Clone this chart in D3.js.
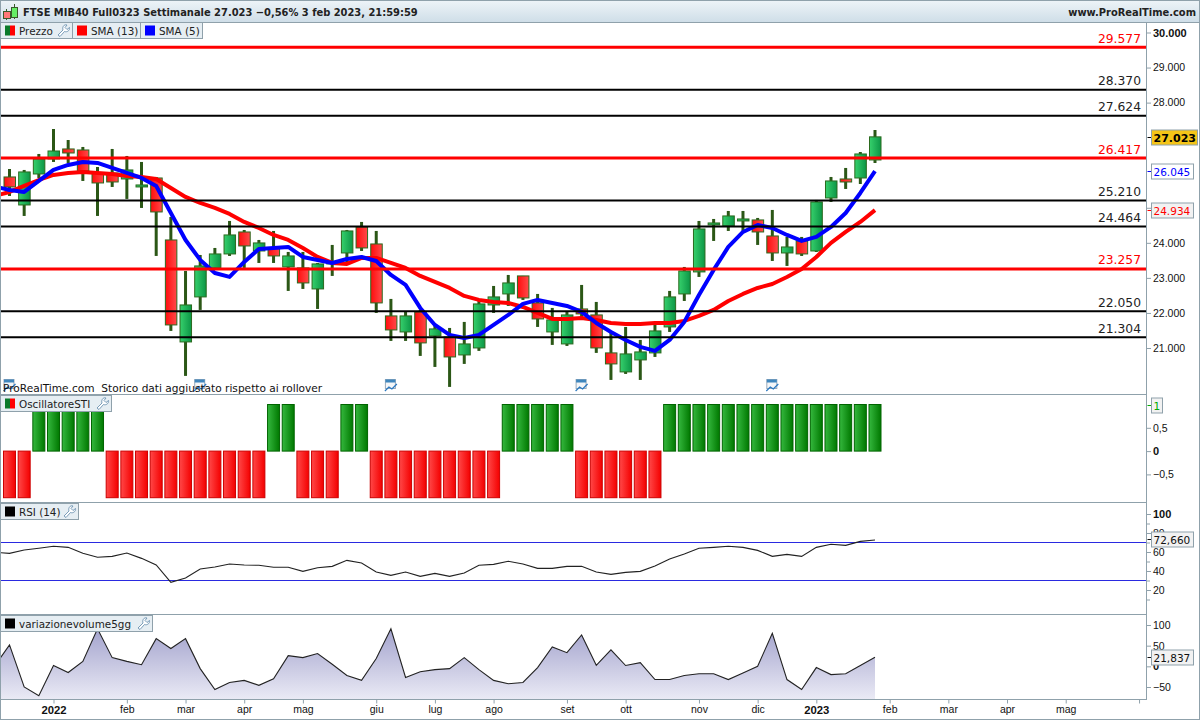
<!DOCTYPE html>
<html>
<head>
<meta charset="utf-8">
<title>FTSE MIB40</title>
<script src="https://cdn.jsdelivr.net/npm/d3@7"></script>
<style>
  html, body { margin: 0; padding: 0; background: #fff; }
  svg { display: block; font-family: "DejaVu Sans", sans-serif; }
  .tick line { stroke: #8fa1ab; }
  .tick text { fill: #111; font-size: 10.5px; }
  .axis .domain { display: none; }
  .narrow { font-family: "DejaVu Sans Condensed", "DejaVu Sans", sans-serif; font-stretch: condensed; }
</style>
</head>
<body>
<svg id="chart" width="1200" height="720"></svg>
<script>
// weekly candles
var opens = [25879,25080,25964,26392,26678,26649,25993,25993,25822,25594,25850,24082,21173,22457,23284,23683,24310,23768,23854,23312,23284,22685,23398,23711,24453,23968,21915,21458,22029,21344,21316,20802,21002,22228,22542,23056,22286,21458,21116,22114,21943,20860,20318,20660,20860,21601,22542,23170,24510,24481,24624,24653,24196,23711,24054,23768,25280,25822,25850,26364];
var highs = [26107,26079,26535,27248,26934,26735,26164,26678,26478,26307,25879,24738,23198,23654,23854,24624,24367,24082,24339,23740,23740,23426,23940,24367,24596,24339,22400,22029,22086,21658,21572,21744,22371,22770,23084,23056,22542,22143,22029,22799,22314,21430,21601,21230,21658,22628,23312,24624,24681,24909,24909,24710,24938,24168,24168,25223,25879,26136,26592,27219];
var lows = [25337,24767,25850,26307,26278,25765,24767,25594,25252,24995,23626,21487,20204,22086,23227,23626,23284,23426,23426,22628,22685,22114,23056,23426,23768,22000,21202,21202,20774,20460,19890,20546,20917,22000,22200,22371,21601,21088,21059,21801,20860,20089,20260,20089,20745,21458,22342,23027,24054,24339,24339,23940,23483,23341,23626,23740,25166,25537,25679,26278];
var closes = [25594,26022,26392,26620,26563,26050,25708,25736,26079,25651,24881,21658,22228,23341,23683,24225,23911,23997,23626,23626,22856,23398,23455,24339,23854,22286,21515,21915,21145,21544,20745,21116,22257,22457,22856,22428,21829,21801,21943,21972,21002,20546,20831,20888,21487,22457,23198,24396,24567,24767,24681,24310,23711,23882,23683,25166,25765,25736,26535,27023];

// line series carry one extra leading value, for the week just left of the chart
var sma13 = [25337,25451,25622,25793,25936,25993,26022,25993,25965,25907,25879,25822,25565,25309,25137,24995,24824,24596,24424,24225,24082,23854,23597,23426,23398,23569,23569,23426,23284,23056,22884,22713,22485,22371,22314,22286,22171,22000,21829,21829,21858,21801,21715,21687,21687,21715,21715,21772,21915,22086,22342,22542,22713,22827,23027,23255,23597,24000,24310,24596,24934];
var sma5 = [25605,25508,25451,25765,26079,26221,26307,26278,26136,25993,25850,25622,24852,24082,23512,23141,23027,23455,23826,23854,23883,23597,23512,23426,23540,23597,23483,23084,22799,22143,21658,21373,21287,21373,21658,21943,22257,22371,22286,22200,22029,21715,21458,21230,21031,20917,21230,21744,22514,23227,23883,24310,24510,24424,24225,24054,24168,24453,24852,25423,26045];
var rsi = [59.6,58.6,62.1,63.9,66.0,64.9,58.6,54.4,55.4,58.9,53.3,46.3,28.1,32.6,42.1,44.2,47.4,46.3,46.0,43.9,43.9,39.6,43.5,44.9,51.2,48.4,38.9,35.4,38.9,34.4,37.5,34.4,37.9,46.0,47.0,50.2,47.4,42.8,42.8,44.9,44.9,38.9,36.5,38.6,39.6,45.2,52.6,57.9,63.9,64.9,66.0,64.9,61.7,55.4,57.5,55.4,64.9,68.1,67.0,71.2,72.66];
var volumeChange = [1,52,-50,-71,2,-15,12,91,21,12,4,67,43,67,-5.5,-56,-39,-34,-46,-30,26,21,31,5,-22,-34,19,91,-27,-13,-8,-5.5,21,-8,-34,-42,-39,-3,47,33,76,2.5,40,2,9,-32,-32,-22,-18,-18,-32,-16,0,80,-32,-56,-3,-20,-18,2,21.84];
var oscillator = [-1,-1,1,1,1,1,1,-1,-1,-1,-1,-1,-1,-1,-1,-1,-1,-1,1,1,-1,-1,-1,1,1,-1,-1,-1,-1,-1,-1,-1,-1,-1,1,1,1,1,1,-1,-1,-1,-1,-1,-1,1,1,1,1,1,1,1,1,1,1,1,1,1,1,1];

var redLevels = [29577, 26417, 23257];
var blackLevels = [28370, 27624, 25210, 24464, 22050, 21304];
var rsiLevels = [70, 30];

var timeLabels = ["2022","feb","mar","apr","mag","giu","lug","ago","set","ott","nov","dic","2023","feb","mar","apr","mag",""];
var timeIndex = [3,8,12,16,20,25,29,33,38,42,47,51,55,60,64,68,72,77];
var calendarIndex = [0,13,26,39,52];

// 27.000 and 26.000 sit wholly under the last value tags, so they are left out
var priceTicks = [30000,29000,28000,25000,24000,23000,22000,21000];
var oscTicks = [0.5,0,-0.5];
var rsiTicks = [100,80,60,40,20];
var rsiMinor = [90,70,50,30,10];
var volTicks = [100,50,0,-50];

var grey = "#8fa1ab";
var itLocale = d3.formatLocale({ decimal: ",", thousands: ".", grouping: [3], currency: ["€", ""], minus: "\u2212" });
var fmtPrice = itLocale.format(",d");

var svg = d3.select("#chart");
var defs = svg.append("defs");

function hGradient(id, from, to) {
  var g = defs.append("linearGradient").attr("id", id);
  g.append("stop").attr("offset", "0%").attr("stop-color", from);
  g.append("stop").attr("offset", "100%").attr("stop-color", to);
}
hGradient("candleUp", "#36d06c", "#0c9646");
hGradient("candleDown", "#ff0d0d", "#ff4a4a");
hGradient("oscUp", "#35b83e", "#007800");
hGradient("oscDown", "#ff4848", "#f40000");

var volGrad = defs.append("linearGradient").attr("id", "volFill").attr("x2", 0).attr("y2", 1);
volGrad.append("stop").attr("offset", "0%").attr("stop-color", "#a3a3cd");
volGrad.append("stop").attr("offset", "100%").attr("stop-color", "#eaeaf5");

var barGrad = defs.append("linearGradient").attr("id", "titleFill").attr("x2", 0).attr("y2", 1);
barGrad.append("stop").attr("offset", "0%").attr("stop-color", "#eef4f8");
barGrad.append("stop").attr("offset", "100%").attr("stop-color", "#cfdee8");

function clip(id, y0, y1) {
  defs.append("clipPath").attr("id", id).append("rect")
    .attr("x", 1).attr("y", y0).attr("width", 1145).attr("height", y1 - y0);
}
clip("clipPrice", 23, 394);
clip("clipOsc", 395, 502);
clip("clipRsi", 503, 614);
clip("clipVol", 615, 699);

// scales
var x = d3.scaleLinear().domain([0, 59]).range([9.5, 875]);
var yPrice = d3.scaleLinear().domain([30000, 21000]).range([32.5, 348]);
var yOsc = d3.scaleLinear().domain([1, -1]).range([404.5, 497.7]);
var yRsi = d3.scaleLinear().domain([100, 20]).range([514, 590]);
var yVol = d3.scaleLinear().domain([100, -50]).range([625, 687]);
var volBase = 699;

// title bar
svg.append("rect").attr("width", 1200).attr("height", 22).attr("fill", "url(#titleFill)");
svg.append("text").attr("class", "narrow").attr("x", 23).attr("y", 16).attr("font-size", 11).attr("font-weight", "bold").attr("fill", "#222")
  .text("FTSE MIB40 Full0323 Settimanale 27.023 \u22120,56% 3 feb 2023, 21:59:59");
svg.append("text").attr("class", "narrow").attr("x", 1196).attr("y", 16).attr("text-anchor", "end").attr("font-size", 11).attr("font-weight", "bold").attr("fill", "#222")
  .text("www.ProRealTime.com");
// little candle logo
svg.append("path").attr("d", "M6.5,9V20M14.5,4V19").attr("stroke", "#3a5a2a").attr("fill", "none");
svg.append("g").selectAll("rect").data([[3, 11, 7, 7, "#f77"], [11, 7, 6, 10, "#6e6"]]).join("rect")
  .attr("x", d => d[0] + 0.5).attr("y", d => d[1] + 0.5).attr("width", d => d[2]).attr("height", d => d[3])
  .attr("fill", d => d[4]).attr("stroke", "#3a5a2a");

// candles
var price = svg.append("g").attr("clip-path", "url(#clipPrice)");
var candles = d3.range(opens.length);
price.append("g").selectAll("line").data(candles).join("line")
  .attr("x1", i => x(i)).attr("x2", i => x(i))
  .attr("y1", i => yPrice(highs[i])).attr("y2", i => yPrice(lows[i]))
  .attr("stroke", "#2b5716").attr("stroke-width", 3);
price.append("g").selectAll("rect").data(candles).join("rect")
  .attr("x", i => x(i) - 5.5)
  .attr("width", 11.5)
  .attr("y", i => yPrice(Math.max(opens[i], closes[i])))
  .attr("height", i => Math.abs(yPrice(opens[i]) - yPrice(closes[i])))
  .attr("fill", i => closes[i] >= opens[i] ? "url(#candleUp)" : "url(#candleDown)")
  .attr("stroke", "#2b6a1e").attr("stroke-width", 1);

// moving averages
function lineOf(y) {
  return d3.line().x((d, i) => x(i - 1)).y(d => y(d));
}
price.append("path").datum(sma13).attr("d", lineOf(yPrice))
  .attr("fill", "none").attr("stroke", "#ff0000").attr("stroke-width", 4).attr("stroke-linejoin", "round");
price.append("path").datum(sma5).attr("d", lineOf(yPrice))
  .attr("fill", "none").attr("stroke", "#0000ff").attr("stroke-width", 4).attr("stroke-linejoin", "round");

// horizontal levels with their labels
var levels = redLevels.map(v => ({ v: v, c: "#ff0000", w: 3 }))
  .concat(blackLevels.map(v => ({ v: v, c: "#000000", w: 2 })));
price.append("g").selectAll("line").data(levels).join("line")
  .attr("x1", 1).attr("x2", 1146)
  .attr("y1", d => yPrice(d.v)).attr("y2", d => yPrice(d.v))
  .attr("stroke", d => d.c).attr("stroke-width", d => d.w);
price.append("g").selectAll("text").data(levels).join("text")
  .attr("x", 1141).attr("y", d => yPrice(d.v) - 4.5)
  .attr("text-anchor", "end").attr("font-size", 12.3)
  .attr("fill", d => d.c === "#ff0000" ? "#f00" : "#222")
  .text(d => fmtPrice(d.v));

// rollover note and calendar markers
svg.append("g").selectAll("g").data(calendarIndex).join("g")
  .attr("transform", i => "translate(" + (x(i) - 6) + ",379)")
  .each(function () {
    var g = d3.select(this);
    g.append("rect").attr("x", 0.5).attr("y", 0.5).attr("width", 10).attr("height", 9).attr("fill", "#f4f6f8").attr("stroke", "#9ab");
    g.append("rect").attr("x", 0.5).attr("y", 0.5).attr("width", 10).attr("height", 3).attr("fill", "#3f86bd");
    g.append("path").attr("d", "M0,12L4,8L7,10L12,5").attr("fill", "none").attr("stroke", "#2a78c0").attr("stroke-width", 1.2);
  });
svg.append("text").attr("x", 3).attr("y", 392).attr("font-size", 10.6).attr("fill", "#111")
  .text("ProRealTime.com\u00a0 Storico dati aggiustato rispetto ai rollover");

// oscillator bars
svg.append("g").attr("clip-path", "url(#clipOsc)").selectAll("rect").data(oscillator).join("rect")
  .attr("x", (d, i) => x(i) - 6)
  .attr("width", 12)
  .attr("y", d => Math.min(yOsc(d), yOsc(0)))
  .attr("height", d => Math.abs(yOsc(d) - yOsc(0)))
  .attr("fill", d => d > 0 ? "url(#oscUp)" : "url(#oscDown)")
  .attr("stroke", d => d > 0 ? "#006400" : "#cc0000");

// rsi
var rsiPanel = svg.append("g").attr("clip-path", "url(#clipRsi)");
rsiPanel.selectAll("line").data(rsiLevels).join("line")
  .attr("x1", 1).attr("x2", 1146)
  .attr("y1", d => yRsi(d)).attr("y2", d => yRsi(d))
  .attr("stroke", "#2a2ae0").attr("stroke-width", 1.2);
rsiPanel.append("path").datum(rsi).attr("d", lineOf(yRsi))
  .attr("fill", "none").attr("stroke", "#222").attr("stroke-width", 1.1);

// volume change
var volPanel = svg.append("g").attr("clip-path", "url(#clipVol)");
var volArea = d3.area().x((d, i) => x(i - 1)).y0(volBase).y1(d => yVol(d));
volPanel.append("path").datum(volumeChange).attr("d", volArea).attr("fill", "url(#volFill)");
volPanel.append("path").datum(volumeChange).attr("d", lineOf(yVol))
  .attr("fill", "none").attr("stroke", "#222").attr("stroke-width", 1.1);

// frames
[394.5, 502.5, 614.5, 699.5].forEach(y => {
  svg.append("line").attr("x1", 0).attr("x2", 1146).attr("y1", y).attr("y2", y).attr("stroke", grey);
});
svg.append("line").attr("x1", 0).attr("x2", 1200).attr("y1", 22.5).attr("y2", 22.5).attr("stroke", grey);
svg.append("line").attr("x1", 1146.5).attr("x2", 1146.5).attr("y1", 22).attr("y2", 700).attr("stroke", grey);
svg.append("rect").attr("x", 0.5).attr("y", 0.5).attr("width", 1199).attr("height", 719)
  .attr("fill", "none").attr("stroke", grey);

// right axes
function rightAxis(scale, ticks, fmt, boldVals) {
  var g = svg.append("g").attr("class", "axis").attr("transform", "translate(1147,0)")
    .call(d3.axisRight(scale).tickValues(ticks).tickSize(4).tickPadding(2).tickFormat(fmt));
  g.selectAll(".tick text").filter(d => boldVals.indexOf(d) >= 0)
    .style("font-weight", "bold").style("font-size", "11px");
  return g;
}
rightAxis(yPrice, priceTicks, fmtPrice, [30000, 25000]);
rightAxis(yOsc, oscTicks, itLocale.format(".2~f"), [0]);
rightAxis(yRsi, rsiTicks, d3.format("d"), [100]);
rightAxis(yVol, volTicks, itLocale.format("d"), [0]);
svg.append("g").attr("class", "axis").attr("transform", "translate(1147,0)")
  .call(d3.axisRight(yRsi).tickValues(rsiMinor).tickSize(3).tickFormat(""));

// time axis
var timeAxis = svg.append("g").attr("class", "axis").attr("transform", "translate(0,699.5)")
  .call(d3.axisBottom(x).tickValues(timeIndex).tickSize(4).tickPadding(2).tickFormat((d, i) => timeLabels[i]));
timeAxis.selectAll(".tick text").filter((d, i) => /^20/.test(timeLabels[i]))
  .style("font-weight", "bold").style("font-size", "11.3px");

// last value tags
var tags = [
  { y: yPrice(closes[59]), w: 46, text: fmtPrice(closes[59]), color: "#000", fill: "#f5c518", bold: true },
  { y: yPrice(sma5[60]), w: 42, text: fmtPrice(sma5[60]), color: "#00f", fill: "#fff" },
  { y: yPrice(sma13[60]), w: 42, text: fmtPrice(sma13[60]), color: "#f00", fill: "#f2f2f2" },
  { y: yOsc(1), w: 11, text: "1", color: "#0a0", fill: "#f2f2f2" },
  { y: yRsi(rsi[60]) - 1, w: 42, text: itLocale.format(".3f")(rsi[60]), color: "#111", fill: "#f2f2f2" },
  { y: yVol(volumeChange[60]), w: 42, text: itLocale.format(".3f")(21.837), color: "#111", fill: "#f2f2f2" }
];
var tagGroup = svg.append("g").selectAll("g").data(tags).join("g")
  .attr("transform", d => "translate(1151.5," + Math.round(d.y) + ")");
tagGroup.append("line").attr("x1", -4).attr("x2", 0).attr("y1", 0.5).attr("y2", 0.5).attr("stroke", d => d.color);
tagGroup.append("rect").attr("y", -7).attr("height", 15).attr("width", d => d.w)
  .attr("fill", d => d.fill).attr("stroke", grey);
tagGroup.append("text").attr("x", 2).attr("y", 4.5).attr("font-size", d => d.bold ? 11 : 10.5)
  .attr("font-weight", d => d.bold ? "bold" : "normal").attr("fill", d => d.color).text(d => d.text);

// legend tabs
function wrench(g, px, py) {
  g.append("path")
    .attr("transform", "translate(" + px + "," + py + ")")
    .attr("d", "M1,11L6,6C5,3 7,0 10,1L8,3.5L10,5.5L12.5,3.5C13,6.5 10,8.5 7.5,7.5L3,12.5Z")
    .attr("fill", "#fff").attr("stroke", "#5d87a8").attr("stroke-width", 0.8);
}
function tab(x0, w, y0, label, swatch, hasWrench) {
  var g = svg.append("g");
  g.append("rect").attr("x", x0 + 0.5).attr("y", y0 + 0.5).attr("width", w).attr("height", 16)
    .attr("fill", "#e6eef3").attr("stroke", grey);
  swatch.forEach((c, i) => {
    g.append("rect").attr("x", x0 + 5 + i * (10 / swatch.length)).attr("y", y0 + 3.5)
      .attr("width", 10 / swatch.length).attr("height", 10).attr("fill", c);
  });
  g.append("text").attr("x", x0 + 19).attr("y", y0 + 12.5).attr("font-size", 10.4).attr("fill", "#222").text(label);
  if (hasWrench) wrench(g, x0 + w - 15, y0 + 2);
}
tab(0, 72, 22, "Prezzo", ["#0a7a2a", "#f00"], true);
tab(72, 68, 22, "SMA (13)", ["#f00"], false);
tab(140, 62, 22, "SMA (5)", ["#00f"], false);
tab(0, 111, 395, "OscillatoreSTI", ["#0a7a2a", "#f00"], true);
tab(0, 78, 503, "RSI (14)", ["#000"], true);
tab(0, 152, 615, "variazionevolume5gg", ["#000"], true);
</script>
</body>
</html>
